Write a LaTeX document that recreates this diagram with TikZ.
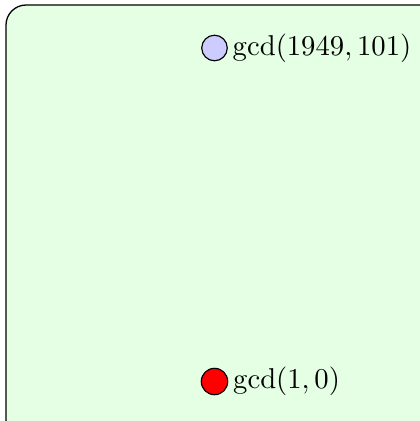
\documentclass[tikz,border=0pt]{standalone}
\begin{document}
\begin{tikzpicture}[x=0.3484pt,y=-0.3484pt,
  dot/.style={circle,draw=black,line width=0.4pt,minimum size=8.9pt,inner sep=0pt},
  lbl/.style={anchor=west,inner sep=1.5pt}]
\useasboundingbox (0,0) rectangle (419,421);
\draw[fill=green!10,line width=0.45pt,rounded corners=7pt] (6,5) rectangle (440,440);
\node[dot,fill=blue!20] (a) at (214.5,48) {};
\node[lbl] (at) at (a.east) {$\gcd(1949,101)$};
\node[dot,fill=red,minimum size=9.2pt] (b) at (214.5,381.5) {};
\node[lbl] (bt) at (b.east) {$\gcd(1,0)$};
\end{tikzpicture}
\end{document}
